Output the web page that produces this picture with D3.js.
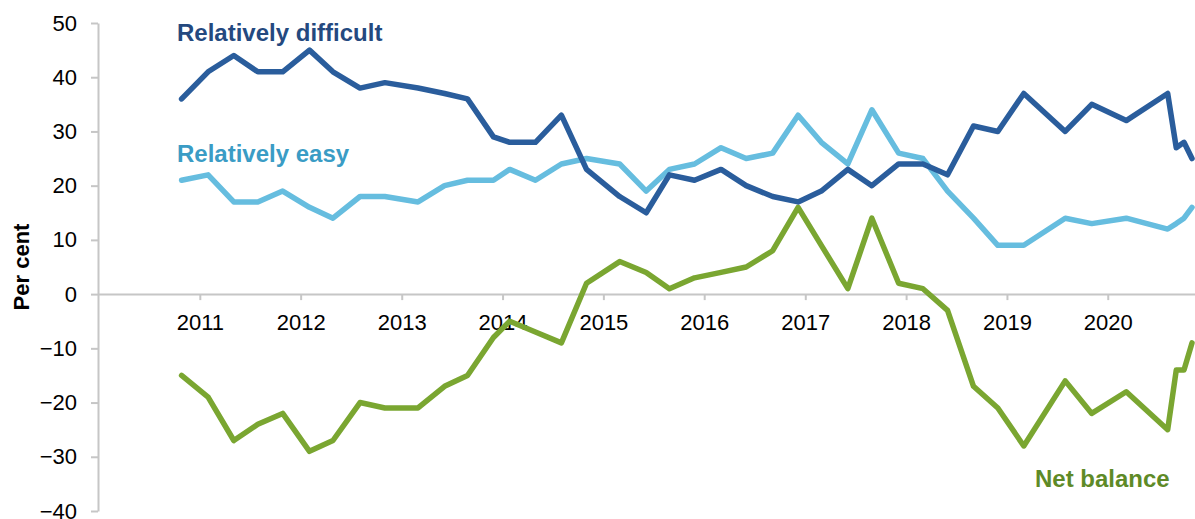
<!DOCTYPE html>
<html lang="en">
<head>
<meta charset="utf-8">

<!-- Load d3.js -->
<script src="https://d3js.org/d3.v7.min.js"></script>
<style>
  body { margin: 0; background: #fff; }
  text { font-family: Arial, "Liberation Sans", sans-serif; }
</style>
</head>

<body>
<div id="my_dataviz"></div>
<script>

// survey dates (roughly quarterly, monthly at the end)
var dates = ["2010-10-27","2011-01-31","2011-05-04","2011-07-30","2011-10-28",
  "2012-02-02","2012-04-27","2012-08-03","2012-11-01","2013-03-01","2013-06-05",
  "2013-08-27","2013-11-29","2014-01-27","2014-04-30","2014-08-02","2014-11-01",
  "2015-03-01","2015-06-05","2015-08-28","2015-11-27","2016-03-02","2016-06-01",
  "2016-09-05","2016-12-06","2017-02-28","2017-06-04","2017-08-30","2017-12-05",
  "2018-03-03","2018-05-31","2018-09-02","2018-11-29","2019-03-03","2019-07-31",
  "2019-11-04","2020-03-08","2020-08-05","2020-09-05","2020-10-03","2020-11-01"]

var difficult = [36,41,44,41,41,45,41,38,39,38,37,36,29,28,28,33,23,18,15,22,21,
  23,20,18,17,19,23,20,24,24,22,31,30,37,30,35,32,37,27,28,25]

var easy = [21,22,17,17,19,16,14,18,18,17,20,21,21,23,21,24,25,24,19,23,24,
  27,25,26,33,28,24,34,26,25,19,14,9,9,14,13,14,12,13,14,16]

var netBalance = [-15,-19,-27,-24,-22,-29,-27,-20,-21,-21,-17,-15,-8,-5,-7,-9,2,6,4,1,3,
  4,5,8,16,9,1,14,2,1,-3,-17,-21,-28,-16,-22,-18,-25,-14,-14,-9]

var yearTicks = [2011,2012,2013,2014,2015,2016,2017,2018,2019,2020]
var yTicks = [50,40,30,20,10,0,-10,-20,-30,-40]

var W = 1195, H = 519

var svg = d3.select("#my_dataviz")
  .append("svg")
  .attr("width", W)
  .attr("height", H)

var parse = d3.timeParse("%Y-%m-%d")

// scales
var x = d3.scaleTime()
  .domain([parse("2010-01-01"), parse("2020-11-01")])
  .range([99, 1192])

var y = d3.scaleLinear()
  .domain([-40, 50])
  .range([511, 23])

var axisGrey = "#c6c6c6"

// Y axis
var yAxis = svg.append("g")
  .attr("transform", "translate(98,0)")
  .call(d3.axisLeft(y).tickValues(yTicks).tickSize(7).tickSizeOuter(0).tickPadding(14))
yAxis.select(".domain").attr("stroke", axisGrey).attr("stroke-width", 2)
yAxis.selectAll(".tick line").attr("stroke", axisGrey).attr("stroke-width", 2)
yAxis.selectAll(".tick text").attr("font-size", "22px").attr("fill", "#000")

// X axis sits on the zero line
var xAxis = svg.append("g")
  .attr("transform", "translate(0," + y(0) + ")")
  .call(d3.axisBottom(x)
    .tickValues(yearTicks.map(function(d) { return new Date(d, 0, 1) }))
    .tickFormat(d3.timeFormat("%Y"))
    .tickSize(6).tickSizeOuter(0).tickPadding(14))
xAxis.select(".domain").attr("d", "M98,0.5H1195").attr("stroke", axisGrey).attr("stroke-width", 2)
xAxis.selectAll(".tick line").attr("stroke", axisGrey).attr("stroke-width", 2)
xAxis.selectAll(".tick text").attr("font-size", "22px").attr("fill", "#000")

// Y axis title
svg.append("text")
  .attr("transform", "translate(29," + ((y(50) + y(-40)) / 2) + ") rotate(-90)")
  .attr("text-anchor", "middle")
  .attr("font-size", "22px")
  .attr("font-weight", "bold")
  .text("Per cent")

// the three series
var series = [
  {name: "Net balance", values: netBalance, color: "#7aa631"},
  {name: "Relatively easy", values: easy, color: "#66bddf"},
  {name: "Relatively difficult", values: difficult, color: "#2a5d9c"}
]

var line = d3.line()
  .x(function(d) { return x(parse(d.date)) })
  .y(function(d) { return y(d.value) })

series.forEach(function(s) {
  var pts = dates.map(function(d, i) { return {date: d, value: s.values[i]} })
  svg.append("path")
    .datum(pts)
    .attr("fill", "none")
    .attr("stroke", s.color)
    .attr("stroke-width", 5.5)
    .attr("stroke-linejoin", "round")
    .attr("stroke-linecap", "round")
    .attr("d", line)
})

// series labels
svg.append("text").attr("x", 177).attr("y", 41).text("Relatively difficult")
  .attr("font-size", "24px").attr("font-weight", "bold").attr("fill", "#24497f")
svg.append("text").attr("x", 177).attr("y", 162).text("Relatively easy")
  .attr("font-size", "24px").attr("font-weight", "bold").attr("fill", "#3a9cc5")
svg.append("text").attr("x", 1035).attr("y", 487).text("Net balance")
  .attr("font-size", "24px").attr("font-weight", "bold").attr("fill", "#5e8a27")

</script>
</body>
</html>
